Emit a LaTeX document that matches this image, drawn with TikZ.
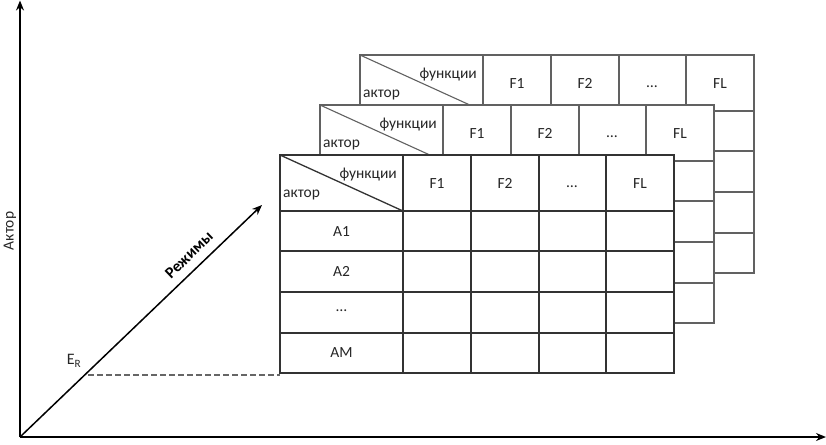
\documentclass[tikz,border=0pt]{standalone}
\usepackage{fontspec}
\setmainfont{Carlito}
\usetikzlibrary{arrows.meta}
\tikzset{
  axisline/.style={line width=1.5pt, draw=black, -{Stealth[length=10pt,width=8pt]}},
  gridfront/.style={line width=1.3pt, draw=black!80},
  gridback/.style={line width=1.1pt, draw=black!62},
  lbl/.style={font=\fontsize{15.5}{18}\selectfont, inner sep=0pt, text=black!85},
  dashline/.style={line width=1.3pt, draw=black!60, dash pattern=on 6pt off 3pt},
}
\newcommand\drawgrid[2]{%
  \begin{scope}[shift={#2}]
    \fill[white] (280,155) rectangle (674,373);
    \draw[#1] (280,155) rectangle (674,373);
    \foreach \xx in {403,471,539,606} \draw[#1] (\xx,155) -- (\xx,373);
    \foreach \yy in {211,251,292,333} \draw[#1] (280,\yy) -- (674,\yy);
    \draw[#1] (280,155) -- (403,211);
  \end{scope}}
\newcommand\tblheader[2]{%
  \begin{scope}[shift={#2}]
    \node[lbl, anchor=east] (#1fn) at (397,175) {функции};
    \node[lbl, anchor=west] (#1ak) at (283,195) {актор};
    \node[lbl, anchor=base] (#1fa) at (437,188.5) {F1};
    \node[lbl, anchor=base] (#1fb) at (505,188.5) {F2};
    \node[lbl] (#1fd) at (572,187) {…};
    \node[lbl, anchor=base] (#1fl) at (640,188.5) {FL};
  \end{scope}}
\begin{document}
\begin{tikzpicture}[x=1pt,y=-1pt]
\useasboundingbox (0,0) rectangle (826,444);
% axes
\coordinate (O) at (20,437);
\coordinate (ytop) at (20,0.5);
\coordinate (xend) at (826,437);
\coordinate (zend) at (262,205);
\coordinate (er) at (88,375);
\coordinate (fbl) at (280,375);
\draw[axisline] (O) -- (ytop);
\draw[axisline] (O) -- (xend);
\draw[axisline] (O) -- (zend);
\node[lbl, rotate=90] (aktor) at (10,231) {Актор};
\node[lbl, rotate=43.8, font=\fontsize{16}{18}\selectfont\bfseries, text=black] (rezh) at (189,255) {Режимы};
\node[lbl, font=\fontsize{16}{18}\selectfont] (erl) at (74,361) {E\textsubscript{R}};
\draw[dashline] (er) -- (fbl);
% tables back to front
\drawgrid{gridback}{(80,-100)}
\tblheader{b}{(80,-100)}
\drawgrid{gridback}{(40,-50)}
\tblheader{m}{(40,-50)}
\drawgrid{gridfront}{(0,0)}
\tblheader{f}{(0,0)}
\node[lbl, anchor=base] (a1) at (341.5,236.5) {A1};
\node[lbl, anchor=base] (a2) at (341.5,276.5) {A2};
\node[lbl] (adots) at (341.5,311) {…};
\node[lbl, anchor=base] (am) at (341.5,357.5) {AM};
\end{tikzpicture}
\end{document}
